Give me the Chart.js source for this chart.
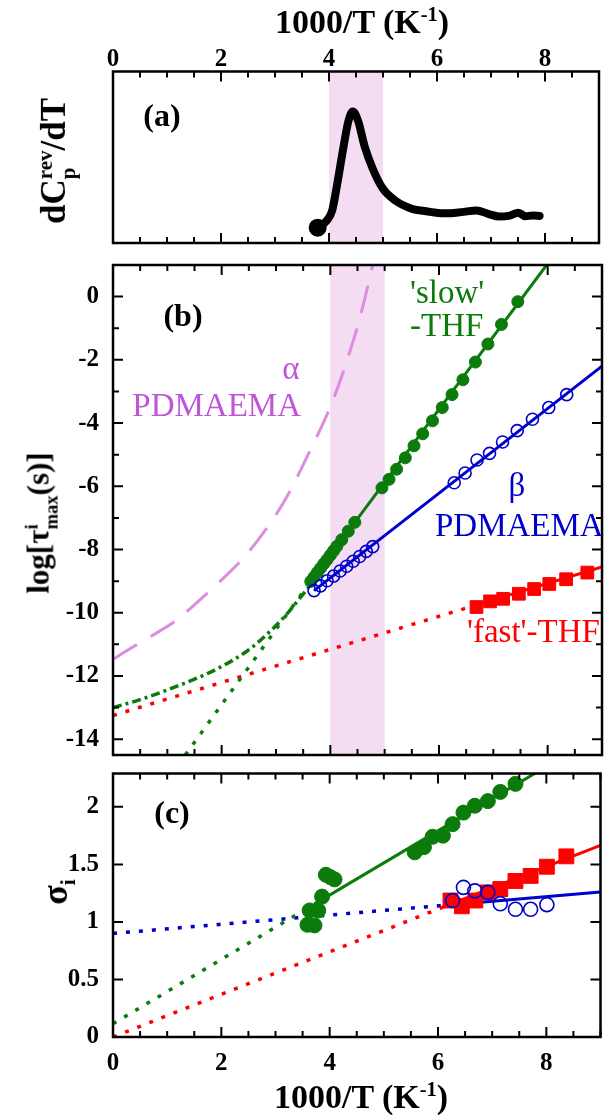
<!DOCTYPE html>
<html>
<head>
<meta charset="utf-8">
<title>Relaxation map</title>
<script src="https://cdn.jsdelivr.net/npm/chart.js@4.4.1/dist/chart.umd.min.js"></script>
<style>
  html, body { margin: 0; padding: 0; background: #fff; overflow: hidden; }
  #page { position: relative; width: 612px; height: 1119px; font-family: "Liberation Serif", "Times New Roman", serif; }
  canvas { position: absolute; left: 0; }
  .txt { position: absolute; white-space: nowrap; line-height: 1; }
  .bold { font-weight: bold; }
  .ytitle { position: absolute; white-space: nowrap; line-height: 1; font-weight: bold; transform: translate(-50%, -50%) rotate(-90deg); }
  .stack { display: inline-block; font-size: 0.6em; line-height: 1.1; vertical-align: -0.5em; text-align: left; }
  .stack span { display: block; }
  sup, sub { font-size: 0.6em; line-height: 0; }
</style>
</head>
<body>
<div id="page">
  <canvas id="panelA" width="612" height="256" style="top:0"></canvas>
  <canvas id="panelB" width="612" height="510" style="top:255px"></canvas>
  <canvas id="panelC" width="612" height="357" style="top:762px"></canvas>

  <!-- axis titles -->
  <div class="txt bold" style="font-size:34px; left:362px; top:5px; transform:translateX(-50%)">1000/T (K<sup>-1</sup>)</div>
  <div class="txt bold" style="font-size:34px; left:361px; top:1080px; transform:translateX(-50%)">1000/T (K<sup>-1</sup>)</div>
  <div class="ytitle" style="font-size:35px; left:57px; top:161px">dC<span class="stack"><span>rev</span><span>p</span></span>/dT</div>
  <div class="ytitle" style="font-size:31px; left:42px; top:523px">log[τ<span class="stack"><span>i</span><span>max</span></span>(s)]</div>
  <div class="ytitle" style="font-size:36px; left:55px; top:892px">σ<sub>i</sub></div>

  <!-- panel letters -->
  <div class="txt bold" style="font-size:32px; left:162px; top:99px; transform:translateX(-50%)">(a)</div>
  <div class="txt bold" style="font-size:32px; left:183px; top:299px; transform:translateX(-50%)">(b)</div>
  <div class="txt bold" style="font-size:32px; left:172px; top:796px; transform:translateX(-50%)">(c)</div>

  <!-- curve labels -->
  <div class="txt" style="font-size:33px; color:#c155d9; left:291px; top:352px; transform:translateX(-50%)">α</div>
  <div class="txt" style="font-size:33px; color:#c155d9; right:311px; top:389px">PDMAEMA</div>
  <div class="txt" style="font-size:33px; color:#0b7b0b; left:410px; top:276px">'slow'</div>
  <div class="txt" style="font-size:33px; color:#0b7b0b; left:410px; top:309px">-THF</div>
  <div class="txt" style="font-size:33px; color:#0000cd; left:517px; top:469px; transform:translateX(-50%)">β</div>
  <div class="txt" style="font-size:33px; color:#0000cd; left:435px; top:509px">PDMAEMA</div>
  <div class="txt" style="font-size:33px; color:#f00; left:467px; top:615px">'fast'-THF</div>
</div>

<script>
// shared x axis: 1000/T (K^-1)
const xRange = [0, 9];
const xTicks = [0, 2, 4, 6, 8];
const bandRange = [4, 5]; // pink shaded glass transition region

// (a) dCp_rev/dT trace, arbitrary units
const dscX = [3.79, 3.97, 4.06, 4.15, 4.27, 4.36, 4.44, 4.54, 4.66, 4.81, 4.99, 5.23, 5.53, 5.80, 6.13, 6.45, 6.73, 6.95, 7.15, 7.35, 7.51, 7.63, 7.78, 7.90];
const dscY = [0.089, 0.135, 0.191, 0.34, 0.563, 0.711, 0.767, 0.711, 0.563, 0.433, 0.321, 0.247, 0.200, 0.185, 0.173, 0.180, 0.190, 0.170, 0.154, 0.160, 0.177, 0.156, 0.160, 0.158];

// (b) log[tau_max (s)]
const bRange = [-14.5, 1];
const bTicks = [0, -2, -4, -6, -8, -10, -12, -14];
const bMinor = [-13, -11, -9, -7, -5, -3, -1];

const slowX = [3.64, 3.70, 3.76, 3.82, 3.88, 3.94, 4.00, 4.06, 4.12, 4.21, 4.33, 4.45, 4.95, 5.08, 5.22, 5.38, 5.54, 5.70, 5.88, 6.06, 6.24, 6.44, 6.67, 6.90, 7.15, 7.45];
const slowY = [-9.01, -8.87, -8.73, -8.59, -8.45, -8.32, -8.18, -8.04, -7.90, -7.69, -7.42, -7.14, -6.05, -5.78, -5.46, -5.10, -4.72, -4.34, -3.93, -3.51, -3.10, -2.63, -2.07, -1.50, -0.88, -0.16];
const slowFitX = [3.6, 7.98];
const slowFitY = [-9.1, 1.0];
const slowExtX = [1.33, 3.6];
const slowExtY = [-14.5, -9.1];
const slowVftX = [0, 0.5, 0.99, 1.5, 1.91, 2.47, 2.89, 3.21, 3.38, 3.6];
const slowVftY = [-13.0, -12.75, -12.45, -12.1, -11.78, -11.21, -10.59, -10.02, -9.66, -9.2];

const betaX = [3.70, 3.82, 3.94, 4.06, 4.18, 4.30, 4.42, 4.54, 4.66, 4.78, 6.28, 6.48, 6.70, 6.93, 7.17, 7.44, 7.72, 8.02, 8.35];
const betaY = [-9.30, -9.15, -8.99, -8.84, -8.68, -8.53, -8.37, -8.22, -8.06, -7.91, -5.89, -5.58, -5.17, -4.96, -4.60, -4.24, -3.88, -3.51, -3.10];
const betaFitX = [3.7, 9];
const betaFitY = [-9.3, -2.2];

const fastX = [6.69, 6.94, 7.18, 7.47, 7.75, 8.03, 8.34, 8.73];
const fastY = [-9.82, -9.64, -9.56, -9.40, -9.25, -9.09, -8.94, -8.73];
const fastFitX = [6.6, 9];
const fastFitY = [-9.8, -8.55];
const fastExtX = [0, 6.6];
const fastExtY = [-13.25, -9.8];

const alphaX = [0, 0.34, 0.85, 1.17, 1.62, 1.98, 2.40, 2.89, 3.21, 3.59, 4.02, 4.30, 4.54, 4.78, 4.9];
const alphaY = [-11.47, -11.11, -10.59, -10.23, -9.56, -8.99, -8.27, -7.18, -6.30, -5.0, -3.4, -2.05, -0.7, 1.0, 1.9];

// (c) sigma_i
const cRange = [0, 2.29];
const cTicks = [0, 0.5, 1, 1.5, 2];

const slowSigX = [3.59, 3.72, 3.63, 3.79, 3.86, 3.93, 4.01, 4.09, 5.57, 5.74, 5.90, 6.09, 6.27, 6.47, 6.68, 6.92, 7.15, 7.43];
const slowSigY = [0.975, 0.97, 1.10, 1.10, 1.22, 1.41, 1.39, 1.37, 1.605, 1.65, 1.74, 1.75, 1.85, 1.95, 2.01, 2.05, 2.13, 2.20];
const slowSigFitX = [3.95, 8.0];
const slowSigFitY = [1.22, 2.35];
const slowSigExtX = [0, 3.95];
const slowSigExtY = [0.115, 1.22];

const fastSigX = [6.23, 6.44, 6.69, 6.92, 7.15, 7.43, 7.71, 8.01, 8.37];
const fastSigY = [1.186, 1.136, 1.186, 1.257, 1.286, 1.356, 1.40, 1.48, 1.57];
const fastSigFitX = [6.1, 9];
const fastSigFitY = [1.13, 1.665];
const fastSigExtX = [0, 6.1];
const fastSigExtY = [0, 1.13];

const betaSigX = [6.27, 6.47, 6.68, 6.92, 7.15, 7.43, 7.71, 8.01];
const betaSigY = [1.186, 1.30, 1.27, 1.257, 1.158, 1.11, 1.11, 1.15];
const betaSigFitX = [6.2, 9];
const betaSigFitY = [1.148, 1.26];
const betaSigExtX = [0, 6.2];
const betaSigExtY = [0.9, 1.148];

// colours
const GREEN = '#0b7b0b', BLUE = '#0000cd', RED = '#ff0000', PINK = '#dd8ce0';
const DOT = [4, 9];

Chart.defaults.font.family = '"Liberation Serif", "Times New Roman", serif';
Chart.defaults.color = '#000';

const tickFont = { size: 25, weight: 'bold' };

function xy(xs, ys) {
  return xs.map((x, i) => ({ x: x, y: ys[i] }));
}

function lineSet(xs, ys, color, width, dash, order) {
  return {
    data: xy(xs, ys), showLine: true, borderColor: color, borderWidth: width,
    borderDash: dash || [], borderCapStyle: 'butt', pointRadius: 0, order: order
  };
}

function markSet(xs, ys, style, color, radius, filled, order) {
  return {
    data: xy(xs, ys), showLine: false, pointStyle: style, pointRadius: radius,
    pointBackgroundColor: filled ? color : 'rgba(0,0,0,0)', pointBorderColor: color,
    pointBorderWidth: filled ? 1 : 1.6, order: order
  };
}

function xScale(show, pos, height, pad) {
  return {
    type: 'linear', min: xRange[0], max: xRange[1], position: pos, display: show,
    grid: { display: false, drawTicks: false }, border: { display: false },
    ticks: { font: tickFont, color: '#000', padding: pad, callback: v => String(v) },
    afterBuildTicks: s => { s.ticks = xTicks.map(v => ({ value: v })); },
    afterFit: s => { s.height = height; s.paddingLeft = 0; s.paddingRight = 0; }
  };
}

function yScale(range, ticks) {
  return {
    type: 'linear', min: range[0], max: range[1], display: true,
    grid: { display: false, drawTicks: false }, border: { display: false },
    ticks: { font: tickFont, color: '#000', padding: 14, callback: v => String(v) },
    afterBuildTicks: s => { s.ticks = ticks.map(v => ({ value: v })); },
    // fixed width, and no extra room for the end labels
    afterFit: s => { s.width = 113; s.paddingTop = 0; s.paddingBottom = 0; }
  };
}

// frame, inward ticks and the shaded band
function makeFrame(band, yMajor, yMinor) {
  return {
    id: 'frame',
    beforeDatasetsDraw(chart) {
      if (!band) return;
      const { ctx, chartArea: a, scales: { x } } = chart;
      const x0 = x.getPixelForValue(band[0]), x1 = x.getPixelForValue(band[1]);
      ctx.save();
      ctx.fillStyle = '#f4dcf2';
      ctx.fillRect(x0, a.top, x1 - x0, a.bottom - a.top);
      ctx.restore();
    },
    afterDatasetsDraw(chart) {
      const { ctx, chartArea: a, scales: { x, y } } = chart;
      ctx.save();
      ctx.strokeStyle = '#000';
      ctx.lineWidth = 2;
      ctx.beginPath();
      for (let v = xRange[0]; v <= xRange[1] + 1e-6; v += 0.5) {
        const px = x.getPixelForValue(v);
        const len = xTicks.includes(v) ? 10 : 6;
        ctx.moveTo(px, a.bottom); ctx.lineTo(px, a.bottom - len);
        ctx.moveTo(px, a.top); ctx.lineTo(px, a.top + len);
      }
      yMajor.forEach(v => {
        const py = y.getPixelForValue(v);
        ctx.moveTo(a.left, py); ctx.lineTo(a.left + 10, py);
        ctx.moveTo(a.right, py); ctx.lineTo(a.right - 10, py);
      });
      yMinor.forEach(v => {
        const py = y.getPixelForValue(v);
        ctx.moveTo(a.left, py); ctx.lineTo(a.left + 6, py);
        ctx.moveTo(a.right, py); ctx.lineTo(a.right - 6, py);
      });
      ctx.stroke();
      ctx.lineWidth = 2.5;
      ctx.strokeRect(a.left, a.top, a.right - a.left, a.bottom - a.top);
      ctx.restore();
    }
  };
}

const baseOpts = {
  responsive: false,
  animation: false,
  events: [],
  plugins: { legend: { display: false }, tooltip: { enabled: false } }
};

// panel (a)
const dscLine = lineSet(dscX, dscY, '#000', 8, [], 1);
dscLine.cubicInterpolationMode = 'monotone';
dscLine.borderCapStyle = 'round';
dscLine.borderJoinStyle = 'round';
dscLine.pointRadius = dscX.map((v, i) => i === 0 ? 5 : 0);
dscLine.pointBackgroundColor = '#000';

new Chart(document.getElementById('panelA'), {
  type: 'scatter',
  data: { datasets: [dscLine] },
  options: Object.assign({}, baseOpts, {
    layout: { padding: { left: 113, right: 0, top: 0, bottom: 5 } },
    scales: {
      x: xScale(true, 'top', 71.5, -3),
      y: { type: 'linear', min: 0, max: 1, display: false }
    }
  }),
  plugins: [makeFrame(bandRange, [], [])]
});

// panel (b)
const alphaLine = lineSet(alphaX, alphaY, PINK, 3, [28, 16], 20);
alphaLine.cubicInterpolationMode = 'monotone';
const vftLine = lineSet(slowVftX, slowVftY, GREEN, 3.5, [9, 4, 3, 4], 20);
vftLine.cubicInterpolationMode = 'monotone';

new Chart(document.getElementById('panelB'), {
  type: 'scatter',
  data: {
    datasets: [
      markSet(betaX, betaY, 'circle', BLUE, 6, false, 1),
      markSet(slowX, slowY, 'circle', GREEN, 6, true, 2),
      markSet(fastX, fastY, 'rect', RED, 9, true, 3),
      lineSet(slowFitX, slowFitY, GREEN, 3, [], 10),
      lineSet(betaFitX, betaFitY, BLUE, 3, [], 10),
      lineSet(fastFitX, fastFitY, RED, 3, [], 10),
      lineSet(slowExtX, slowExtY, GREEN, 3.5, DOT, 20),
      lineSet(fastExtX, fastExtY, RED, 3.5, DOT, 20),
      vftLine,
      alphaLine
    ]
  },
  options: Object.assign({}, baseOpts, {
    layout: { padding: { left: 0, right: 0, top: 5, bottom: 5 } },
    scales: {
      x: xScale(false, 'bottom', 0, 0),
      y: yScale(bRange, bTicks)
    }
  }),
  plugins: [makeFrame(bandRange, bTicks, bMinor)]
});

// panel (c)
new Chart(document.getElementById('panelC'), {
  type: 'scatter',
  data: {
    datasets: [
      markSet(betaSigX, betaSigY, 'circle', BLUE, 7, false, 1),
      markSet(fastSigX, fastSigY, 'rect', RED, 10.5, true, 2),
      markSet(slowSigX, slowSigY, 'circle', GREEN, 7.5, true, 3),
      lineSet(slowSigFitX, slowSigFitY, GREEN, 3, [], 10),
      lineSet(fastSigFitX, fastSigFitY, RED, 3, [], 10),
      lineSet(betaSigFitX, betaSigFitY, BLUE, 3, [], 10),
      lineSet(slowSigExtX, slowSigExtY, GREEN, 3.5, DOT, 20),
      lineSet(fastSigExtX, fastSigExtY, RED, 3.5, DOT, 20),
      lineSet(betaSigExtX, betaSigExtY, BLUE, 3.5, DOT, 20)
    ]
  },
  options: Object.assign({}, baseOpts, {
    layout: { padding: { left: 0, right: 0, top: 5, bottom: 0 } },
    scales: {
      x: xScale(true, 'bottom', 82, 12),
      y: yScale(cRange, cTicks)
    }
  }),
  plugins: [makeFrame(null, cTicks, [])]
});
</script>
</body>
</html>
